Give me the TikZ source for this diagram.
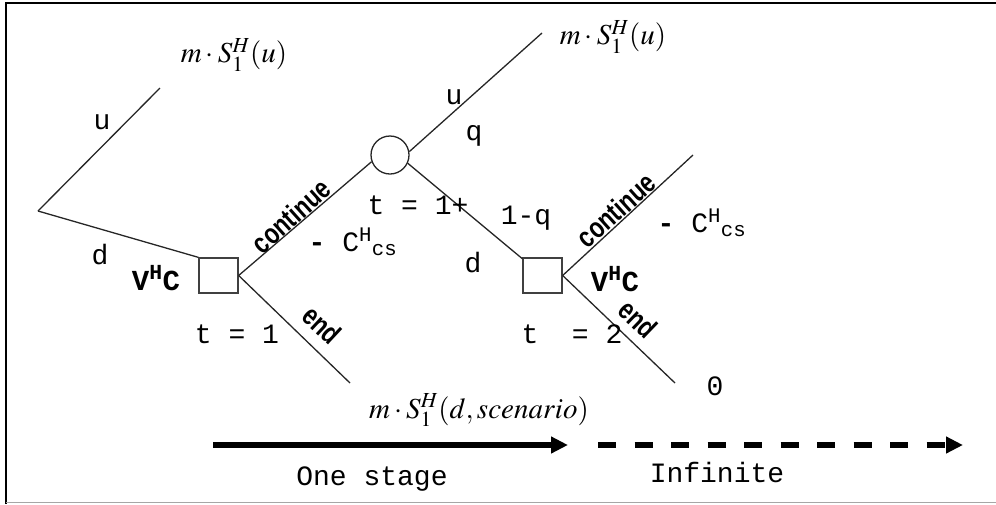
\documentclass[tikz,border=0pt]{standalone}
\usepackage{mathptmx}
\usepackage[no-math]{fontspec}
\setmainfont{Liberation Serif}
\setsansfont{Liberation Sans}
\setmonofont{Liberation Mono}
\usetikzlibrary{arrows.meta}

\newcommand{\actword}[1]{\scalebox{0.78}[1]{#1}}

\tikzset{
  branch/.style={line width=1.3pt, black!85},
  decbox/.style={draw=black!75, line width=1.3pt, rectangle, minimum width=39pt, minimum height=35pt, inner sep=0pt},
  chance/.style={draw=black!85, line width=1.3pt, circle, minimum size=38pt, inner sep=0pt},
  mono/.style={font=\fontsize{28}{30}\selectfont\ttfamily, inner sep=0pt},
  monob/.style={font=\fontsize{29}{30}\selectfont\ttfamily\bfseries, inner sep=0pt},
  act/.style={font=\fontsize{29}{30}\selectfont\sffamily\bfseries, inner sep=0pt},
  pay/.style={font=\fontsize{29}{32}\selectfont, inner sep=0pt},
  stage/.style={line width=5.5pt, -{Triangle[length=17pt,width=16pt]}},
}

\begin{document}
\begin{tikzpicture}[x=1pt,y=-1pt]
\useasboundingbox (0,0) rectangle (996,504);
% frame
\draw[line width=2.4pt] (6,504) -- (6,3) -- (996,3);
\draw[black!35, line width=1pt] (6,502.5) -- (996,502.5);

% nodes of the tree
\coordinate (root) at (38,211);
\coordinate (tipU) at (160,88);
\node[decbox] (decA) at (218.5,275.5) {};
\node[chance] (chB) at (390,155) {};
\node[decbox] (decC) at (542.5,275.5) {};
\coordinate (tipUB) at (542,33);
\coordinate (endA) at (350,383);
\coordinate (tipCont) at (693,155);
\coordinate (endC) at (675,383);

% branches
\draw[branch] (root) -- (tipU);
\draw[branch] (root) -- (decA.north west);
\draw[branch] (decA.east) -- (chB.200);
\draw[branch] (decA.east) -- (endA);
\draw[branch] (chB.10) -- (tipUB);
\draw[branch] (chB.-25) -- (decC);
\draw[branch] (decC.east) -- (tipCont);
\draw[branch] (decC.east) -- (endC);

% payoffs
\node[pay] (payUA) at (234,55) {$m\cdot S_1^H(u)$};
\node[pay] (payUB) at (613,37) {$m\cdot S_1^H(u)$};
\node[pay] (payDA) at (479,410) {$m\cdot S_1^H(d,scenario)$};
\node[mono] (payDC) at (715,386) {0};

% branch labels
\node[mono] (lblUA) at (102,122) {u};
\node[mono] (lblDA) at (100,255) {d};
\node[monob] (valA) at (156,278) {V\textsuperscript{H}C};
\node[mono] (timeA) at (237,334) {t = 1};
\node[act, rotate=42] (contA) at (291,216) {\actword{continue}};
\node[mono] (costA) at (353,242) {{\bfseries -} C\textsuperscript{H}\textsubscript{cs}};
\node[act, rotate=-43] (endlA) at (322,325) {\actword{end}};
\node[mono] (timeB) at (418,205) {t = 1+};
\node[mono] (lblUB) at (454,97) {u};
\node[mono] (lblQ) at (474,136) {q};
\node[mono] (lblNQ) at (526,218) {1-q};
\node[mono] (lblDB) at (473,263) {d};
\node[act, rotate=42] (contC) at (616,210) {\actword{continue}};
\node[mono] (costC) at (702,223) {{\bfseries -} C\textsuperscript{H}\textsubscript{cs}};
\node[monob] (valC) at (615,279) {V\textsuperscript{H}C};
\node[act, rotate=-44] (endlC) at (638,319) {\actword{end}};
\node[mono] (timeC) at (572,334) {t~~= 2};

% time axis
\coordinate (oneL) at (213,445);
\coordinate (oneR) at (568,445);
\coordinate (infL) at (598,445);
\coordinate (infR) at (963,445);
\draw[stage] (oneL) -- (oneR);
\draw[stage, dash pattern=on 18pt off 18.5pt] (infL) -- (infR);
\node[mono] (oneLbl) at (372,479) {One stage};
\node[mono] (infLbl) at (717,472) {Infinite};
\end{tikzpicture}
\end{document}
